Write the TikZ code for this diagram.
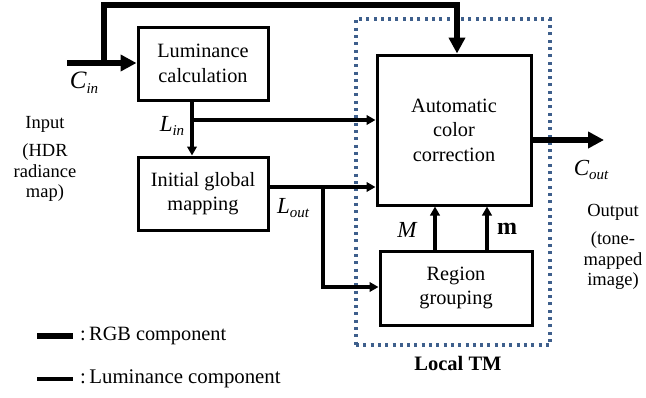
\documentclass[tikz,border=0pt]{standalone}
\usepackage{fontspec}
\setmainfont{Liberation Serif}
\usetikzlibrary{arrows.meta}

% small italic subscript used in the signal labels
\newcommand{\lowsub}[1]{\raisebox{-0.45ex}{\fontsize{15}{15}\selectfont\itshape #1}}

\begin{document}
\begin{tikzpicture}[x=1pt,y=-1pt,
  every node/.style={font=\fontsize{20.3}{24.5}\selectfont},
  blk/.style={draw, line width=3pt, inner sep=0pt, align=center},
  rgb/.style={line width=5.4pt, -{Triangle[length=16pt,width=16pt]}},
  rgbline/.style={line width=5.4pt},
  lumi/.style={line width=3.2pt, -{Triangle[length=9pt,width=9.5pt]}},
  lumiline/.style={line width=3.2pt},
  sig/.style={font=\fontsize{23}{23}\selectfont\itshape, inner sep=0pt},
  side/.style={font=\fontsize{18.5}{20.5}\selectfont, align=center, inner sep=0pt},
  tmframe/.style={draw=tmblue, line width=3.2pt, dash pattern=on 3pt off 4.3pt,
                  minimum width=194pt, minimum height=326pt, inner sep=0pt}]
\definecolor{tmblue}{HTML}{3E5F8C}
\useasboundingbox (0,0) rectangle (646,397);

% local tone-mapping frame
\node[tmframe] (tm) at (453,182) {};
\node[font=\fontsize{20.5}{24}\selectfont\bfseries, inner sep=0pt] (tmlabel) at (458,363) {Local TM};

% processing blocks
\node[blk, minimum width=130pt, minimum height=73pt] (lum) at (203,63.5) {Luminance\\calculation};
\node[blk, minimum width=130pt, minimum height=73pt] (igm) at (203,193.5) {Initial global\\mapping};
\node[blk, minimum width=154pt, minimum height=150pt] (acc) at (454,130) {Automatic\\color\\correction};
\node[blk, minimum width=152pt, minimum height=74pt] (reg) at (456,288) {Region\\grouping};

% junction and end points
\coordinate (cin) at (67,63);
\coordinate (csplit) at (104,63);
\coordinate (ctop) at (457,5);
\coordinate (cout) at (604,140);
\coordinate (lsplit) at (192,120);
\coordinate (osplit) at (323,187);
\coordinate (rin) at (380,287);
\coordinate (bigm) at (435,0);
\coordinate (smallm) at (487,0);

% RGB paths
\draw[rgbline] (cin) -- (csplit);
\draw[rgb] (csplit) -- (lum.west |- csplit);
\draw[rgb] (csplit) |- (ctop) -- (acc.north -| ctop);
\draw[rgb] (acc.east |- cout) -- (cout);

% luminance paths
\draw[lumi] (lum.south -| lsplit) -- (igm.north -| lsplit);
\draw[lumi] (lsplit) -- (acc.west |- lsplit);
\draw[lumi] (igm.east |- osplit) -- (acc.west |- osplit);
\draw[lumi] (osplit) |- (reg.west |- rin);
\draw[lumi] (reg.north -| bigm) -- (acc.south -| bigm);
\draw[lumi] (reg.north -| smallm) -- (acc.south -| smallm);

% signal labels
\node[sig, font=\fontsize{25}{25}\selectfont\itshape] (cinlabel) at (84,83) {C\lowsub{in}};
\node[sig] (linlabel) at (172,126) {L\lowsub{in}};
\node[sig] (loutlabel) at (293,208) {L\lowsub{out}};
\node[sig] (coutlabel) at (591,170) {C\lowsub{out}};
\node[sig] (mlabel) at (407,230) {M};
\node[sig, font=\fontsize{24}{24}\selectfont\bfseries] (mmlabel) at (507,229) {m};

% input and output notes
\node[side] (inp) at (45,124) {Input};
\node[side] (inpnote) at (45,173) {(HDR\\radiance\\map)};
\node[side] (outp) at (613,212) {Output};
\node[side] (outpnote) at (613,261) {(tone-\\mapped\\image)};

% legend
\coordinate (lg1a) at (37,336);
\coordinate (lg1b) at (73,336);
\coordinate (lg2a) at (37,379);
\coordinate (lg2b) at (73,379);
\draw[rgbline] (lg1a) -- (lg1b);
\draw[lumiline] (lg2a) -- (lg2b);
\node[anchor=west, inner sep=0pt] (lgt1) at (80,336) {:\,RGB component};
\node[anchor=west, inner sep=0pt, font=\fontsize{20.8}{24}\selectfont] (lgt2) at (80,379) {:\,Luminance component};
\end{tikzpicture}
\end{document}
